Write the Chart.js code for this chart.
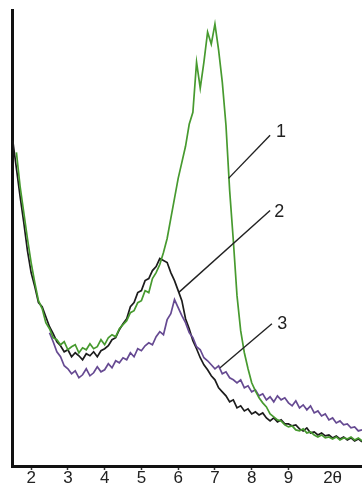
<!DOCTYPE html>
<html>
<head>
<meta charset="utf-8">
<script src="https://cdn.jsdelivr.net/npm/chart.js@4/dist/chart.umd.min.js"></script>
<style>
  html, body { margin: 0; padding: 0; background: #fff; }
  #wrap { width: 362px; height: 483px; }
</style>
</head>
<body>
<div id="wrap"><canvas id="xrd" width="362" height="483"></canvas></div>
<script>
// Diffraction angle grid (2θ, degrees)
const twoTheta = [
  1.5, 1.6, 1.7, 1.8, 1.9, 2.0, 2.1, 2.2, 2.3, 2.4, 2.5, 2.6, 2.7, 2.8, 2.9, 3.0,
  3.1, 3.2, 3.3, 3.4, 3.5, 3.6, 3.7, 3.8, 3.9, 4.0, 4.1, 4.2, 4.3, 4.4, 4.5, 4.6,
  4.7, 4.8, 4.9, 5.0, 5.1, 5.2, 5.3, 5.4, 5.5, 5.6, 5.7, 5.8, 5.9, 6.0, 6.1, 6.2,
  6.3, 6.4, 6.5, 6.6, 6.7, 6.8, 6.9, 7.0, 7.1, 7.2, 7.3, 7.4, 7.5, 7.6, 7.7, 7.8,
  7.9, 8.0, 8.1, 8.2, 8.3, 8.4, 8.5, 8.6, 8.7, 8.8, 8.9, 9.0, 9.1, 9.2, 9.3, 9.4,
  9.5, 9.6, 9.7, 9.8, 9.9, 10.0, 10.1, 10.2, 10.3, 10.4, 10.5, 10.6, 10.7, 10.8, 10.9, 11.0
];

// Intensity (a.u.), sample 1
const sample1 = [
  null, 313, 279, 253, 227, 203,
  183, 165, 157, 143, 137,
  128, 126, 121, 124, 116,
  119, 121, 113, 118, 116,
  122, 117, 119, 126, 121,
  128, 131, 129, 137, 141,
  145, 153, 155, 163, 165,
  175, 173, 187, 193, 201,
  213, 227, 247, 267, 287,
  303, 319, 341, 353, 403,
  377, 403, 433, 421, 441,
  415, 383, 340, 275, 225,
  170, 135, 113, 97, 83,
  75, 68, 63, 59, 52,
  49, 46, 45, 41, 39,
  40, 36, 35, 37, 33,
  34, 31, 29, 31, 28,
  29, 27, 29, 26, 28,
  27, 29, 26, 28, 25
];

// Intensity (a.u.), sample 2
const sample2 = [
  325, 297, 269, 243, 215, 193,
  179, 163, 159, 149, 139,
  132, 124, 120, 114, 116,
  109, 113, 110, 106, 112,
  110, 114, 109, 115, 117,
  120, 126, 128, 136, 142,
  147, 159, 163, 173, 175,
  185, 187, 195, 199, 207,
  205, 203, 193, 185, 175,
  165, 147, 137, 125, 117,
  108, 101, 96, 90, 86,
  78, 74, 70, 64, 66,
  58, 60, 55, 57, 52,
  54, 51, 53, 48, 45,
  48, 44, 46, 42, 42,
  40, 41, 37, 35, 38,
  33, 34, 31, 33, 30,
  31, 28, 30, 27, 29,
  26, 28, 25, 27, 24
];

// Intensity (a.u.), sample 3
const sample3 = [
  null, null, null, null, null, null,
  null, null, null, null, 133,
  124, 114, 109, 100, 97,
  92, 95, 88, 91, 97,
  90, 93, 99, 94, 96,
  102, 98, 105, 103, 108,
  106, 113, 109, 117, 115,
  120, 123, 121, 129, 134,
  131, 146, 152, 166, 158,
  150, 143, 133, 128, 119,
  116, 108, 105, 101, 97,
  100, 92, 94, 88, 86,
  83, 86, 78, 80, 74,
  76, 70, 72, 66, 69,
  64, 70, 66, 68, 63,
  60, 65, 58, 61, 56,
  60, 53, 55, 50, 52,
  46, 48, 43, 45, 41,
  42, 38, 39, 35, 36
];

const xTickValues = [2, 3, 4, 5, 6, 7, 8, 9, 10.2];
const xTickLabels = ['2', '3', '4', '5', '6', '7', '8', '9', '2θ'];
const curveLabels = ['1', '2', '3'];

const FONT = '"Liberation Sans", Arial, sans-serif';

const toPoints = (ys) => twoTheta.map((t, i) => ({ x: t, y: ys[i] }));

// Numbered leader lines pointing at each curve
const curveTags = {
  id: 'curveTags',
  afterDatasetsDraw(chart, args, opts) {
    const { ctx, scales: { x, y } } = chart;
    ctx.save();
    ctx.strokeStyle = '#222';
    ctx.lineWidth = 1.4;
    ctx.fillStyle = '#222';
    ctx.font = '18px ' + FONT;
    ctx.textAlign = 'center';
    ctx.textBaseline = 'middle';
    opts.tags.forEach((t) => {
      ctx.beginPath();
      ctx.moveTo(x.getPixelForValue(t.from[0]), y.getPixelForValue(t.from[1]));
      ctx.lineTo(x.getPixelForValue(t.to[0]), y.getPixelForValue(t.to[1]));
      ctx.stroke();
      ctx.fillText(t.text, x.getPixelForValue(t.at[0]), y.getPixelForValue(t.at[1]));
    });
    ctx.restore();
  }
};

const lineStyle = { borderWidth: 1.7, pointRadius: 0, tension: 0, fill: false, spanGaps: false };

new Chart(document.getElementById('xrd'), {
  type: 'line',
  data: {
    datasets: [
      Object.assign({ label: curveLabels[0], data: toPoints(sample1), borderColor: '#479a2f', order: 1 }, lineStyle),
      Object.assign({ label: curveLabels[2], data: toPoints(sample3), borderColor: '#664a92', order: 2 }, lineStyle),
      Object.assign({ label: curveLabels[1], data: toPoints(sample2), borderColor: '#1c1c1c', order: 3 }, lineStyle)
    ]
  },
  options: {
    responsive: false,
    animation: false,
    devicePixelRatio: 1,
    layout: { padding: { left: 4, top: 10, right: 0, bottom: -4 } },
    plugins: {
      legend: { display: false },
      tooltip: { enabled: false },
      curveTags: {
        tags: [
          { text: curveLabels[0], from: [7.37, 287], to: [8.5, 330], at: [8.8, 333] },
          { text: curveLabels[1], from: [6.01, 173], to: [8.5, 255], at: [8.75, 253] },
          { text: curveLabels[2], from: [7.14, 98], to: [8.55, 142], at: [8.83, 142] }
        ]
      }
    },
    scales: {
      x: {
        type: 'linear',
        min: 1.48,
        max: 11.0,
        afterBuildTicks: (axis) => { axis.ticks = xTickValues.map((v) => ({ value: v })); },
        ticks: {
          autoSkip: false,
          maxRotation: 0,
          padding: 0,
          color: '#222',
          font: { family: FONT, size: 17, lineHeight: 1 },
          callback: (value, index) => xTickLabels[index]
        },
        grid: {
          display: true,
          drawOnChartArea: false,
          drawTicks: true,
          tickLength: 4,
          tickWidth: 1.5,
          tickColor: (c) => (c.tick && c.tick.value > 9.5 ? 'rgba(0,0,0,0)' : '#333')
        },
        border: { display: true, color: '#111', width: 3 }
      },
      y: {
        min: 0,
        max: 455,
        ticks: { display: false },
        grid: { display: false },
        border: { display: true, color: '#111', width: 3 }
      }
    }
  },
  plugins: [curveTags]
});
</script>
</body>
</html>
